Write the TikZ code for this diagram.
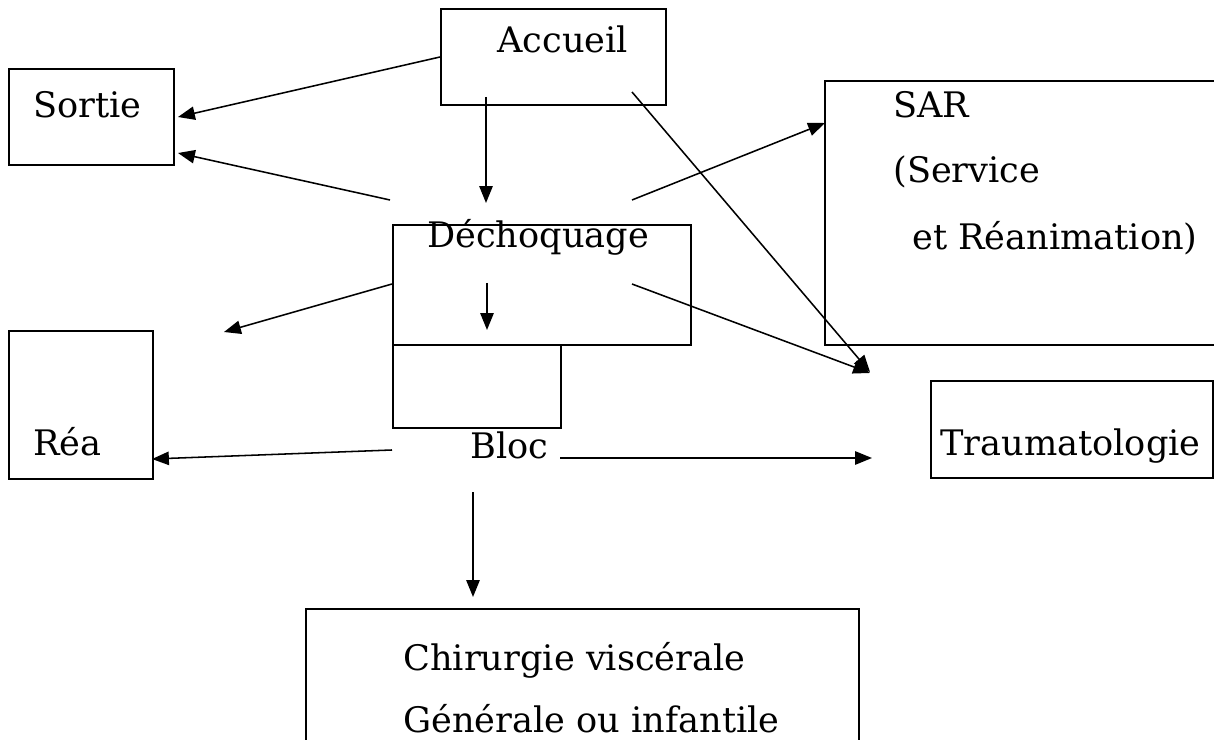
\documentclass[tikz,border=0pt]{standalone}
\usepackage{fontspec}
\setmainfont{DejaVu Serif}
\usetikzlibrary{arrows.meta}

\begin{document}
\begin{tikzpicture}[x=0.025cm, y=-0.025cm,
		box/.style={draw, line width=1.3pt, rectangle, anchor=north west, inner sep=0pt},
		lbl/.style={anchor=base west, inner sep=0pt, font=\fontsize{25}{30}\selectfont},
		fleche/.style={-{Triangle[length=12pt, width=9.5pt]}, line width=1.1pt}]
		\useasboundingbox (0,0) rectangle (1214,740);
		
		% Les cases
		\node[box, minimum width=225*0.025cm, minimum height=96*0.025cm] (accueil) at (440,8) {};
		\node[box, minimum width=165*0.025cm, minimum height=96*0.025cm] (sortie) at (8,68) {};
		\node[box, minimum width=400*0.025cm, minimum height=264*0.025cm] (sar) at (824,80) {};
		\node[box, minimum width=298*0.025cm, minimum height=120*0.025cm] (dechoc) at (392,224) {};
		\node[box, minimum width=168*0.025cm, minimum height=83*0.025cm] (bloc) at (392,344) {};
		\node[box, minimum width=144*0.025cm, minimum height=148*0.025cm] (rea) at (8,330) {};
		\node[box, minimum width=282*0.025cm, minimum height=97*0.025cm] (trauma) at (930,380) {};
		\node[box, minimum width=553*0.025cm, minimum height=150*0.025cm] (chir) at (305,608) {};
		
		% Les textes
		\node[lbl] (tAccueil) at (497,53) {Accueil};
		\node[lbl] (tSortie) at (33,118) {Sortie};
		\node[lbl] (tSar) at (893,118) {SAR};
		\node[lbl] (tService) at (893,183) {(Service};
		\node[lbl] (tReanim) at (912,250) {et Réanimation)};
		\node[lbl] (tDechoc) at (427,248) {Déchoquage};
		\node[lbl] (tBloc) at (470,458) {Bloc};
		\node[lbl] (tRea) at (33,455) {Réa};
		\node[lbl] (tTrauma) at (940,455) {Traumatologie};
		\node[lbl] (tChir) at (403,670) {Chirurgie viscérale};
		\node[lbl] (tGen) at (403,732) {Générale ou infantile};
		
		% Extrémités des flèches
		\coordinate (a1) at (440,57); \coordinate (s1) at (178,117);
		\coordinate (d1) at (390,200); \coordinate (s2) at (178,153);
		\coordinate (a2) at (486,97); \coordinate (d2) at (486,203);
		\coordinate (a3) at (632,92); \coordinate (t1) at (870,372);
		\coordinate (d3) at (632,200); \coordinate (r1) at (825,123);
		\coordinate (d4) at (632,284); \coordinate (t2) at (870,373);
		\coordinate (d5) at (392,284); \coordinate (e1) at (224,332);
		\coordinate (d6) at (487,283); \coordinate (b1) at (487,330);
		\coordinate (b2) at (392,450); \coordinate (e2) at (152,459);
		\coordinate (b3) at (560,458); \coordinate (t3) at (872,458);
		\coordinate (b4) at (473,492); \coordinate (c1) at (473,597);
		
		\draw[fleche] (a1) -- (s1);
		\draw[fleche] (d1) -- (s2);
		\draw[fleche] (a2) -- (d2);
		\draw[fleche] (a3) -- (t1);
		\draw[fleche] (d3) -- (r1);
		\draw[fleche] (d4) -- (t2);
		\draw[fleche] (d5) -- (e1);
		\draw[fleche] (d6) -- (b1);
		\draw[fleche] (b2) -- (e2);
		\draw[fleche] (b3) -- (t3);
		\draw[fleche] (b4) -- (c1);
	\end{tikzpicture}
\end{document}
